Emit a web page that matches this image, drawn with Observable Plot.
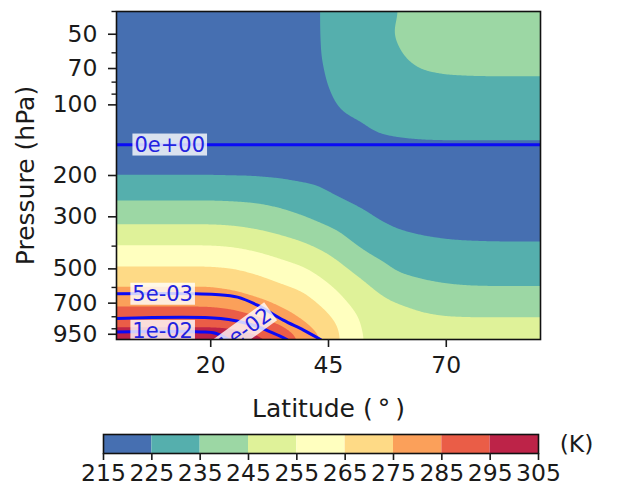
<!DOCTYPE html>
<html>
<head>
<meta charset="utf-8">
<script src="https://cdn.jsdelivr.net/npm/d3@7"></script>
<script src="https://cdn.jsdelivr.net/npm/@observablehq/plot@0.6"></script>
<style>
  html, body { margin: 0; padding: 0; background: #fff; }
  #chart svg { display: block; }
</style>
</head>
<body>
<div id="chart"></div>
<script>
// ---- Temperature grid (K): columns = latitudes, one array per pressure level ----
const latitudes = [0, 5, 10, 15, 20, 25, 30, 35, 40, 45, 50, 55, 60, 65, 70, 75, 80, 85, 90];
const pressures = [1000, 794, 631, 501, 398, 316, 251, 200, 158, 126, 100, 79.4, 63.1, 50.1, 39.8];
const t1000 = [301, 301, 301, 301, 301, 300.5, 298.5, 295.0, 283.5, 272.5, 257.5, 252.8, 252.6, 252.5, 252.5, 252.5, 252.5, 252.5, 252.5];
const t794  = [289.7, 289.7, 289.7, 289.7, 289.7, 288.5, 284.5, 278.5, 272.5, 266.3, 256.5, 251.0, 248.5, 246.2, 244.9, 244.6, 244.6, 244.6, 244.6];
const t631  = [278, 278, 278, 278, 278, 276, 272.5, 268.5, 265.1, 258, 251.5, 245.5, 241.5, 238.8, 237.3, 236.7, 236.5, 236.5, 236.5];
const t501  = [266.1, 266.1, 266.1, 266.1, 266.1, 265.2, 262.5, 259, 255.8, 250.5, 244.0, 238.5, 233.5, 231.8, 231.1, 230.8, 230.8, 230.8, 230.8];
const t398  = [255.2, 255.2, 255.2, 255.2, 255.2, 254.3, 252.3, 249.5, 246.3, 242.0, 235.8, 231.0, 228.5, 227.0, 226.2, 225.9, 225.7, 225.7, 225.7];
const t316  = [243.8, 243.8, 243.8, 243.8, 243.8, 243.3, 241.8, 239.5, 236.7, 233.5, 229.5, 225.6, 223.2, 222.2, 221.8, 221.5, 221.5, 221.5, 221.5];
const t251  = [234.3, 234.3, 234.3, 234.3, 234.3, 234.0, 233.5, 232.0, 229.8, 226.5, 223.5, 221.3, 220.0, 219.4, 219, 219, 219, 219, 219];
const t200  = [224.7, 224.7, 224.7, 224.7, 224.7, 224.5, 224.3, 223.8, 222.8, 221.5, 220.3, 219.7, 219.5, 219.5, 219.5, 219.5, 219.5, 219.5, 219.5];
const t158  = [219, 219, 219, 219, 219, 219, 219, 219, 219, 219.5, 220.5, 221.8, 222.7, 223.1, 223.2, 223.2, 223.2, 223.2, 223.2];
const t126  = [219, 219, 219, 219, 219, 219, 219, 219, 219.5, 220.5, 222.8, 225.8, 226.5, 226.8, 226.9, 226.9, 226.9, 226.9, 226.9];
const t100  = [219, 219, 219, 219, 219, 219, 219, 219, 220.5, 223.8, 227.5, 229.3, 230.1, 230.4, 230.6, 230.6, 230.6, 230.6, 230.6];
const t79   = [219, 219, 219, 219, 219, 219, 219, 219, 221.5, 225.3, 229.5, 232.3, 233.5, 234.0, 234.2, 234.2, 234.2, 234.2, 234.2];
const t63   = [219, 219, 219, 219, 219, 219, 219, 219, 222.0, 226.3, 230.5, 233.0, 234.6, 236.2, 237.2, 237.7, 237.9, 237.9, 237.9];
const t50   = [219, 219, 219, 219, 219, 219, 219, 219, 222.2, 226.5, 230.8, 233.5, 235.5, 238.5, 240.3, 241.2, 241.6, 241.6, 241.6];
const t40   = [219, 219, 219, 219, 219, 219, 219, 219, 222.3, 226.5, 230.6, 233.2, 234.8, 238.5, 241.5, 243.2, 244, 244, 244];

// ---- Filled contour levels (K) ----
const levels = [215, 225, 235, 245, 255, 265, 275, 285, 295, 305];

// ---- Blue contour lines (read positions: latitude °, pressure hPa) ----
const q005Lat = [0, 16.3, 21, 25.7, 29.9, 35.4, 39.7, 43.3];
const q005P   = [638, 638, 643, 660, 714, 827, 912, 1000];
const q010Lat = [0, 22.1, 29.1, 33.4, 36.2];
const q010P   = [813, 813, 869, 942, 1000];
const q015Lat = [0, 17.8, 21, 23.8];
const q015P   = [928, 928, 940, 1000];
const qZeroP  = [148];

// ---- Inline contour labels ----
const labelText = ["0e+00", "5e-03", "1e-02"];
const labelLat  = [11.3, 9.8, 9.8];
const labelP    = [148, 640, 921];
const slantText = ["1e-02"];
const slantLat  = [27.2];
const slantP    = [915];

// ---- Ticks ----
const xTicks = [20, 45, 70];
const yMajor = [50, 70, 100, 200, 300, 500, 700, 950];
const yMinor = [40, 60, 80, 90, 400, 600, 800, 900];

// ---- build table ----
const tRows = [t1000, t794, t631, t501, t398, t316, t251, t200, t158, t126, t100, t79, t63, t50, t40];
const grid = [];
pressures.forEach((p, i) => latitudes.forEach((lat, j) => grid.push({lat, p, T: tRows[i][j]})));
const toPts = (la, pr) => la.map((lat, i) => ({lat, p: pr[i]}));

const bandColors = ["#466fb1", "#55afad", "#9cd7a4", "#dff299", "#ffffbf", "#feda86", "#fba05a", "#ea5d47", "#bd2348"];
const colorScale = {type: "threshold", domain: levels.slice(1, -1), range: bandColors};
const blue = "#0a0af5";
const labelBlue = "#2323e0";
const font = "DejaVu Sans";
const ink = "#1a1a1a";

const main = Plot.plot({
  width: 625, height: 428,
  marginTop: 11, marginRight: 85, marginBottom: 89, marginLeft: 116,
  style: {fontFamily: font, background: "white", color: ink},
  x: {domain: [0, 90]},
  y: {type: "log", domain: [1000, 40]},
  color: colorScale,
  marks: [
    Plot.contour(grid, {x: "lat", y: "p", fill: "T", interpolate: "barycentric",
      thresholds: levels.slice(0, -1), pixelSize: 1, blur: 7, clip: true}),
    Plot.line(toPts(q005Lat, q005P), {x: "lat", y: "p", stroke: blue, strokeWidth: 3, curve: "catmull-rom", clip: true}),
    Plot.line(toPts(q010Lat, q010P), {x: "lat", y: "p", stroke: blue, strokeWidth: 3, curve: "catmull-rom", clip: true}),
    Plot.line(toPts(q015Lat, q015P), {x: "lat", y: "p", stroke: blue, strokeWidth: 3, curve: "catmull-rom", clip: true}),
    Plot.ruleY(qZeroP, {stroke: blue, strokeWidth: 3}),
    Plot.text(labelText, {x: (d, i) => labelLat[i], y: (d, i) => labelP[i], text: d => d,
      fill: labelBlue, fontSize: 21, clip: true}),
    Plot.text(slantText, {x: (d, i) => slantLat[i], y: (d, i) => slantP[i], text: d => d,
      fill: labelBlue, fontSize: 21, rotate: -36, clip: true}),
    Plot.frame({stroke: "#111", strokeWidth: 1.6}),
    Plot.axisX({ticks: xTicks, tickSize: 8, tickPadding: 9, fontSize: 23.5, label: null,
      text: d => String(d), strokeWidth: 1.6}),
    Plot.axisX({ticks: [], label: "Latitude (\u2009°\u2009)", labelAnchor: "center", labelOffset: 77,
      fontSize: 25, labelArrow: "none"}),
    Plot.axisY({ticks: yMajor, tickSize: 8, tickPadding: 11, fontSize: 23.5, label: null,
      text: d => String(d), strokeWidth: 1.6}),
    Plot.axisY({ticks: yMinor, tickSize: 4.5, text: () => "", label: null, strokeWidth: 1.4}),
    Plot.axisY({ticks: [], label: "Pressure (hPa)", labelAnchor: "center", labelOffset: 100,
      fontSize: 25, labelArrow: "none"})
  ]
});

const bar = Plot.plot({
  width: 625, height: 64,
  marginTop: 6, marginBottom: 39, marginLeft: 103, marginRight: 87,
  style: {fontFamily: font, background: "white", color: ink},
  x: {domain: [levels[0], levels[levels.length - 1]]},
  color: colorScale,
  marks: [
    Plot.rect(levels.slice(0, -1), {x1: d => d, x2: (d, i) => levels[i + 1], fill: d => d}),
    Plot.frame({stroke: "#111", strokeWidth: 1.6}),
    Plot.axisX({ticks: levels, tickSize: 7, tickPadding: 4, fontSize: 23.5, label: null,
      text: d => String(d), strokeWidth: 1.6}),
    Plot.text(["(K)"], {frameAnchor: "right", dx: 38, fontSize: 23.5, textAnchor: "middle", fill: ink})
  ]
});

const chart = document.getElementById("chart");
chart.appendChild(main);
chart.appendChild(bar);

// pale boxes behind inline contour labels
const labelSet = new Set([...labelText, ...slantText]);
main.querySelectorAll("text").forEach(t => {
  if (!labelSet.has(t.textContent) || t.closest("g[aria-label^='x-axis'], g[aria-label^='y-axis']")) return;
  const b = t.getBBox();
  const r = document.createElementNS("http://www.w3.org/2000/svg", "rect");
  r.setAttribute("x", b.x - 2);
  r.setAttribute("y", b.y + 1);
  r.setAttribute("width", b.width + 4);
  r.setAttribute("height", b.height - 2);
  r.setAttribute("fill", "white");
  r.setAttribute("fill-opacity", "0.8");
  const tr = t.getAttribute("transform");
  if (tr) r.setAttribute("transform", tr);
  t.parentNode.insertBefore(r, t);
});
</script>
</body>
</html>
